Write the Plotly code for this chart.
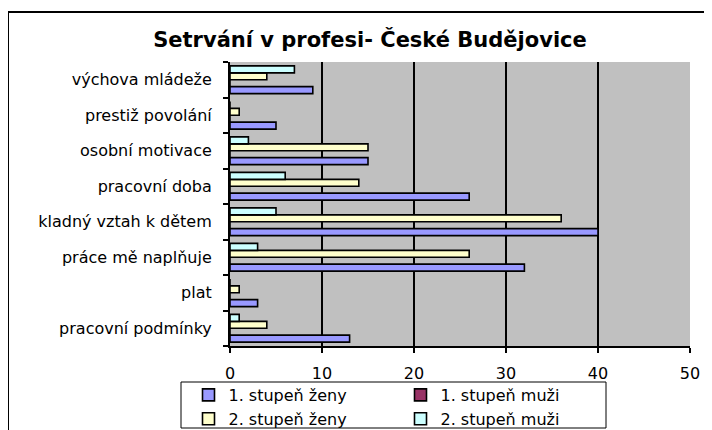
import plotly.graph_objects as go

# Categories listed bottom-to-top
categories = [
    "pracovní podmínky",
    "plat",
    "práce mě naplňuje",
    "kladný vztah k dětem",
    "pracovní doba",
    "osobní motivace",
    "prestiž povolání",
    "výchova mládeže",
]
zeny_1 = [13, 3, 32, 40, 26, 15, 5, 9]
muzi_1 = [0, 0, 0, 0, 0, 0, 0, 0]
zeny_2 = [4, 1, 26, 36, 14, 15, 1, 4]
muzi_2 = [1, 0, 3, 5, 6, 2, 0, 7]

series_names = ["1. stupeň ženy", "1. stupeň muži", "2. stupeň ženy", "2. stupeň muži"]
series_values = [zeny_1, muzi_1, zeny_2, muzi_2]
series_colors = ["#9999FF", "#993366", "#FFFFCC", "#CCFFFF"]
x_ticks = [0, 10, 20, 30, 40, 50]

FONT = "DejaVu Sans"
OFF = 8  # page body margin offset

fig = go.Figure()
for name, vals, col in zip(series_names, series_values, series_colors):
    fig.add_trace(go.Bar(
        y=categories, x=vals, name=name, orientation="h",
        marker=dict(color=col, line=dict(color="black", width=1.6)),
    ))

W, H = 712 - OFF, 430 - OFF
L, T = 230 - OFF, 62 - OFF
R = W - (690 - OFF)
B = H - (346 - OFF)
pw, ph = W - L - R, H - T - B

def px_x(x):  # reference page pixel -> paper x
    return (x - OFF - L) / pw

def px_y(y):  # reference page pixel -> paper y
    return 1 - (y - OFF - T) / ph

fig.update_layout(
    width=W, height=H,
    margin=dict(l=L, r=R, t=T, b=B, autoexpand=False),
    paper_bgcolor="white",
    plot_bgcolor="#C0C0C0",
    barmode="group",
    bargap=0.22,
    bargroupgap=0,
    font=dict(family=FONT, color="black"),
    title=dict(
        text="<b>Setrvání v profesi- České Budějovice</b>",
        font=dict(family=FONT, size=21, color="black"),
        x=(370 - OFF) / W, xref="container", xanchor="center",
        y=1 - (40 - OFF) / H, yref="container", yanchor="middle",
    ),
    legend=dict(
        orientation="h",
        x=px_x((181 + 606) / 2 + 7), xanchor="center",
        y=px_y(378), yanchor="top",
        bgcolor="rgba(0,0,0,0)", borderwidth=0,
        font=dict(family=FONT, size=16, color="black"),
        entrywidth=167, traceorder="normal",
        itemwidth=30, tracegroupgap=0,
    ),
    showlegend=True,
)
fig.update_xaxes(
    range=[0, 50], tickvals=x_ticks, ticktext=[str(v) for v in x_ticks],
    showgrid=True, gridcolor="black", gridwidth=1.5,
    zeroline=False, showline=True, linecolor="black", linewidth=2,
    ticks="outside", ticklen=5, tickwidth=1.5, tickcolor="black",
    tickfont=dict(family=FONT, size=16, color="black"),
    ticklabelstandoff=7,
)
fig.update_yaxes(
    type="category", categoryorder="array", categoryarray=categories,
    showgrid=False, zeroline=False, showline=True, linecolor="black", linewidth=2,
    ticks="outside", ticklen=5, tickwidth=1.5, tickcolor="black", tickson="boundaries",
    tickfont=dict(family=FONT, size=16, color="black"),
    ticklabelstandoff=13,
)
# outer chart frame (decoration)
fig.add_shape(
    type="rect", xref="paper", yref="paper",
    x0=px_x(8), x1=px_x(716),
    y0=px_y(434), y1=px_y(12),
    line=dict(color="black", width=2), fillcolor="rgba(0,0,0,0)", layer="below",
)
# legend frame (decoration)
fig.add_shape(
    type="rect", xref="paper", yref="paper",
    x0=px_x(181), x1=px_x(606),
    y0=px_y(428), y1=px_y(382),
    line=dict(color="black", width=1), fillcolor="white", layer="below",
)

fig.write_html("out.html")
